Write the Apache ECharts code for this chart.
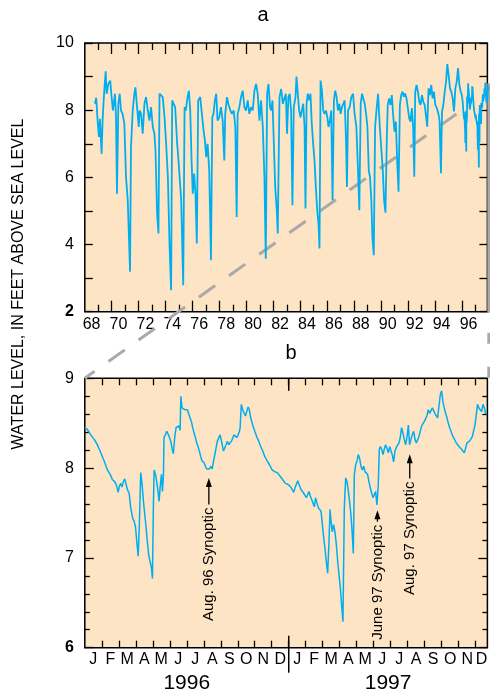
<!DOCTYPE html>
<html><head><meta charset="utf-8">
<script src="https://cdn.jsdelivr.net/npm/echarts@6/dist/echarts.min.js"></script>
<style>html,body{margin:0;padding:0;background:#fff}#c{width:490px;height:694px}</style>
</head><body><div id="c"></div>
<script>
// ---------- Panel a: long-term record (decimal year, ft above sea level) ----------
const yearsA = [1968.75,1968.85,1968.95,1969.05,1969.12,1969.25,1969.32,1969.40,1969.50,1969.55,1969.62,1969.75,1969.89,1969.99,
1970.09,1970.24,1970.32,1970.39,1970.49,1970.59,1970.69,1970.81,1970.94,
1971.06,1971.19,1971.36,1971.43,1971.56,1971.68,1971.76,1971.88,
1972.01,1972.06,1972.18,1972.30,1972.43,1972.55,1972.68,1972.80,1972.92,
1973.05,1973.17,1973.25,1973.37,1973.47,1973.55,1973.67,1973.79,1973.92,
1974.04,1974.17,1974.29,1974.41,1974.49,1974.61,1974.71,1974.86,1974.96,
1975.04,1975.16,1975.31,1975.41,1975.50,1975.63,1975.73,1975.83,1975.93,
1976.02,1976.12,1976.22,1976.32,1976.42,1976.57,1976.67,1976.82,1976.92,
1977.02,1977.12,1977.24,1977.37,1977.47,1977.56,1977.66,1977.76,1977.86,1977.99,
1978.11,1978.24,1978.36,1978.43,1978.56,1978.66,1978.81,1978.93,
1979.06,1979.18,1979.28,1979.35,1979.48,1979.60,1979.73,1979.85,1979.97,
1980.10,1980.22,1980.35,1980.47,1980.60,1980.72,1980.84,1980.97,
1981.09,1981.22,1981.34,1981.44,1981.54,1981.64,1981.76,1981.84,1981.94,
1982.04,1982.14,1982.26,1982.33,1982.46,1982.58,1982.71,1982.83,1982.93,
1983.02,1983.12,1983.22,1983.32,1983.42,1983.52,1983.65,1983.72,1983.82,1983.92,
1984.02,1984.12,1984.22,1984.32,1984.39,1984.47,1984.56,1984.66,1984.76,1984.86,1984.96,
1985.06,1985.16,1985.26,1985.36,1985.43,1985.51,1985.61,1985.71,1985.81,1985.91,
1986.01,1986.10,1986.20,1986.30,1986.40,1986.50,1986.60,1986.70,1986.80,1986.90,
1987.00,1987.10,1987.20,1987.30,1987.40,1987.47,1987.55,1987.67,1987.79,1987.92,
1988.04,1988.17,1988.29,1988.39,1988.49,1988.59,1988.69,1988.79,1988.89,1988.99,
1989.09,1989.18,1989.28,1989.36,1989.46,1989.56,1989.66,1989.78,1989.91,
1990.03,1990.13,1990.23,1990.33,1990.43,1990.50,1990.60,1990.70,1990.80,1990.90,
1991.00,1991.10,1991.20,1991.30,1991.40,1991.50,1991.60,1991.70,1991.79,1991.89,1991.99,
1992.09,1992.19,1992.29,1992.39,1992.47,1992.54,1992.64,1992.74,1992.84,1992.94,
1993.04,1993.14,1993.24,1993.33,1993.43,1993.53,1993.63,1993.73,1993.83,1993.93,
1994.03,1994.15,1994.28,1994.35,1994.45,1994.53,1994.63,1994.73,1994.83,1994.92,
1995.02,1995.12,1995.22,1995.32,1995.42,1995.52,1995.62,1995.72,1995.82,1995.92];
const levelsA = [8.19,8.37,7.69,7.20,7.74,6.70,7.69,8.29,8.88,9.16,8.49,8.78,8.88,8.39,
7.99,8.49,7.79,5.51,8.19,8.49,7.99,7.89,7.59,
6.01,5.32,3.19,6.90,7.99,8.49,8.68,8.09,
7.50,7.99,7.89,7.30,8.19,8.39,7.99,7.69,8.09,
7.50,7.30,6.80,4.92,4.33,8.49,8.50,8.39,7.79,
7.00,6.01,4.03,2.64,8.29,8.34,8.09,7.00,6.50,
6.01,5.32,2.79,8.09,7.99,8.39,8.58,7.99,6.50,
5.51,6.11,5.51,4.03,8.29,8.39,8.44,7.40,7.10,
6.60,7.00,6.21,3.53,7.79,7.89,8.29,8.49,7.69,7.79,
8.09,7.69,6.50,7.89,8.39,8.19,7.99,7.89,
7.99,7.50,4.82,7.89,8.09,8.39,8.58,8.09,7.99,
8.29,7.89,8.09,7.99,8.58,8.78,8.49,7.69,
8.29,7.50,6.01,3.58,8.49,8.78,8.09,7.99,8.29,
7.00,5.71,5.02,4.33,8.39,8.63,8.19,8.19,8.49,
7.30,8.39,8.49,7.99,5.17,8.09,8.39,9.00,8.49,7.99,
7.79,7.99,8.19,7.50,5.07,8.19,8.49,8.29,8.49,7.59,7.00,
6.50,5.71,5.02,4.60,3.88,8.88,8.58,7.99,7.89,7.99,
7.79,7.50,7.69,7.99,5.32,8.29,8.58,8.39,7.99,8.19,
7.89,8.09,8.19,8.29,7.10,5.71,7.99,8.09,8.39,8.49,
7.89,7.50,6.21,5.02,8.19,8.49,8.49,8.19,7.89,7.50,
6.21,6.01,5.32,4.23,3.68,7.50,7.99,8.49,7.50,
7.50,6.21,5.30,4.95,7.16,8.16,8.35,8.16,8.45,7.86,
7.36,7.66,6.47,5.57,8.16,8.45,8.55,8.40,8.50,8.35,8.06,
7.76,7.66,8.06,7.46,6.02,8.55,8.75,8.55,8.25,8.16,
8.45,8.25,8.16,7.86,7.51,8.65,8.45,8.75,8.35,8.55,
8.16,8.06,7.86,7.66,6.12,7.96,8.16,8.55,8.85,9.37,
9.05,8.65,8.55,8.35,7.96,8.65,8.85,9.25,8.75,8.55];

// ---------- Panel b: 1996-1997 record (months since 1 Jan 1996) ----------
const monthsB = [0.00,0.15,0.35,0.55,0.74,0.94,1.14,1.33,1.49,1.63,
1.76,1.88,1.96,2.04,2.12,2.19,2.27,2.35,2.43,2.51,
2.61,2.70,2.82,2.90,2.98,3.06,3.14,3.21,3.29,3.37,
3.45,3.53,3.61,3.68,3.76,3.84,3.92,3.98,4.04,4.08,
4.16,4.23,4.31,4.37,4.43,4.51,4.57,4.63,4.66,4.74,
4.82,4.90,4.98,5.06,5.14,5.21,5.29,5.37,5.45,5.53,
5.61,5.65,5.72,5.80,5.88,5.96,6.04,6.12,6.19,6.27,
6.35,6.43,6.51,6.59,6.66,6.74,6.82,6.90,7.02,7.10,
7.17,7.25,7.33,7.41,7.49,7.57,7.65,7.72,7.80,7.88,
7.96,8.00,8.08,8.16,8.23,8.31,8.39,8.47,8.55,8.63,
8.70,8.78,8.86,8.94,9.02,9.10,9.14,9.21,9.29,9.37,
9.45,9.53,9.61,9.68,9.76,9.88,10.00,10.12,10.23,10.35,
10.47,10.59,10.70,10.86,11.02,11.18,11.33,11.49,11.65,11.80,
11.94,12.07,12.21,12.29,12.37,12.45,12.53,12.60,12.68,12.76,
12.88,12.96,13.04,13.11,13.19,13.27,13.35,13.43,13.51,13.58,
13.66,13.74,13.82,13.90,13.98,14.06,14.13,14.21,14.29,14.37,
14.43,14.49,14.56,14.64,14.72,14.80,14.88,14.96,15.04,15.11,
15.19,15.27,15.35,15.43,15.51,15.58,15.66,15.74,15.80,15.86,
15.94,16.02,16.09,16.17,16.25,16.33,16.41,16.49,16.56,16.64,
16.72,16.80,16.88,16.96,17.04,17.11,17.19,17.27,17.33,17.39,
17.47,17.55,17.62,17.70,17.78,17.86,17.94,18.02,18.09,18.17,
18.25,18.33,18.41,18.49,18.56,18.64,18.72,18.80,18.88,18.96,
19.04,19.11,19.19,19.27,19.35,19.43,19.51,19.58,19.66,19.74,
19.82,19.90,19.98,20.06,20.13,20.21,20.29,20.37,20.45,20.53,
20.60,20.68,20.76,20.84,20.92,21.00,21.07,21.15,21.23,21.31,
21.39,21.47,21.55,21.62,21.70,21.78,21.86,21.94,22.02,22.09,
22.17,22.25,22.33,22.41,22.49,22.56,22.64,22.72,22.80,22.88,
22.96,23.04,23.11,23.19,23.27,23.35,23.43,23.51,23.58,23.66];
const levelsB = [8.45,8.43,8.37,8.32,8.26,8.17,8.08,7.98,7.93,7.87,
7.85,7.80,7.73,7.80,7.83,7.79,7.85,7.88,7.82,7.76,
7.72,7.56,7.44,7.41,7.35,7.18,7.02,7.37,7.95,7.82,
7.63,7.48,7.33,7.18,7.03,7.02,6.89,6.77,7.63,7.98,
7.93,7.85,7.74,7.63,7.78,7.93,7.74,7.93,8.34,8.37,
8.41,8.38,8.34,8.30,8.21,8.16,8.34,8.45,8.44,8.47,
8.42,8.80,8.67,8.67,8.65,8.63,8.65,8.60,8.61,8.52,
8.45,8.39,8.34,8.28,8.24,8.19,8.13,8.08,8.06,8.02,
7.99,8.01,7.99,8.02,7.99,7.98,8.15,8.22,8.30,8.32,
8.37,8.34,8.32,8.19,8.21,8.26,8.30,8.26,8.25,8.30,
8.28,8.37,8.39,8.34,8.37,8.41,8.45,8.71,8.65,8.63,
8.58,8.63,8.68,8.65,8.56,8.48,8.41,8.35,8.30,8.24,
8.19,8.13,8.09,8.04,7.98,7.96,7.95,7.91,7.87,7.83,
7.82,7.80,7.76,7.73,7.78,7.80,7.86,7.82,7.78,7.75,
7.72,7.70,7.67,7.70,7.74,7.69,7.65,7.61,7.57,7.67,
7.61,7.56,7.57,7.52,7.37,7.22,7.11,6.96,6.83,7.18,
7.54,7.41,7.29,7.37,7.29,7.15,6.96,6.81,6.66,6.48,
6.29,7.56,7.89,7.85,7.74,7.63,7.48,7.26,7.05,7.93,
8.04,8.08,8.15,8.11,8.02,7.98,8.02,7.96,7.96,7.93,
7.85,7.78,7.72,7.67,7.69,7.74,7.59,7.82,8.21,8.24,
8.21,8.15,8.21,8.26,8.22,8.17,8.24,8.19,8.15,8.07,
8.19,8.23,8.24,8.28,8.34,8.45,8.39,8.32,8.26,8.35,
8.48,8.26,8.32,8.37,8.41,8.32,8.28,8.30,8.35,8.37,
8.47,8.48,8.52,8.54,8.58,8.65,8.61,8.63,8.67,8.64,
8.61,8.60,8.56,8.58,8.82,8.86,8.74,8.67,8.61,8.56,
8.50,8.45,8.41,8.37,8.34,8.31,8.28,8.26,8.24,8.22,
8.21,8.19,8.17,8.15,8.28,8.28,8.30,8.32,8.35,8.37,
8.48,8.50,8.71,8.67,8.65,8.63,8.71,8.67,8.61,8.60];

// ---------- Tick labels ----------
const yearTickLabels = ['68','70','72','74','76','78','80','82','84','86','88','90','92','94','96'];
const monthTickLabels = ['J','F','M','A','M','J','J','A','S','O','N','D','J','F','M','A','M','J','J','A','S','O','N','D'];
const yearLabelsB = ['1996','1997'];
const levelTicksA = [2,4,6,8,10];
const levelTicksB = [6,7,8,9];
const annotations = [
  {text:'Aug. 96 Synoptic', month:7.30, textTop:7.56, tip:7.89},
  {text:'June 97 Synoptic', month:17.22, textTop:7.37, tip:7.53},
  {text:'Aug. 97 Synoptic', month:19.12, textTop:7.85, tip:8.155}
];

// ---------- Layout / style ----------
const FONT = '"Liberation Sans", Arial, Helvetica, sans-serif';
const A_MIN = 1968, A_MAX = 1997.9;   // panel a x extent (years)
const B_MIN = 0, B_MAX = 23.69;       // panel b x extent (months)
const BG = '#FDE4C4', LINE = '#00AEEF', GREY = '#A9A9A9';
const tick = {color:'#000', width:1.3};

const evenYears = [], oddYears = [];
for (let y = 1969; y <= 1997; y++) (y % 2 ? oddYears : evenYears).push(y);
const yearLabelPos = yearTickLabels.map(l => 1900 + Number(l) + 0.5);
const monthTicks = []; for (let m = 1; m < 24; m++) monthTicks.push(m);
const monthLabelPos = monthTickLabels.map((l, i) => (i + Math.min(i + 1, B_MAX)) / 2);
const yearLabelPosB = yearLabelsB.map((l, i) => (i * 12 + Math.min(i * 12 + 12, B_MAX)) / 2);

function xa(grid, pos, min, max, ticks, len, labelOpt) {
  return {
    type:'value', gridIndex:grid, position:pos, min:min, max:max,
    axisLine:{show:false, onZero:false},
    splitLine:{show:false},
    axisTick: ticks ? {show:true, inside:true, length:len, customValues:ticks, lineStyle:tick} : {show:false},
    axisLabel: labelOpt || {show:false}
  };
}
function ya(grid, pos, min, max, len, labels, minor) {
  const o = {
    type:'value', gridIndex:grid, position:pos, min:min, max:max, interval:1,
    axisLine:{show:false, onZero:false}, splitLine:{show:false},
    axisTick:{show:true, inside:true, length:len, lineStyle:tick},
    axisLabel: labels ? {show:true, margin:11, fontFamily:FONT, fontSize:16, color:'#000',
      formatter: v => labels.indexOf(v) < 0 ? '' : (v === min ? '{b|' + v + '}' : String(v)),
      rich:{b:{fontFamily:FONT, fontSize:16, fontWeight:'bold', color:'#000'}}} : {show:false}
  };
  if (minor) o.minorTick = {show:true, splitNumber:5, length:5, lineStyle:tick};
  return o;
}

const seriesA = yearsA.map((y, i) => [y, levelsA[i]])
  .concat(monthsB.map((m, i) => [1996 + m / 12, levelsB[i]]));
const seriesB = monthsB.map((m, i) => [m, levelsB[i]]);

const option = {
  animation:false,
  backgroundColor:'#fff',
  grid:[
    {left:84.8, top:43, width:402.6, height:268.7, show:true, backgroundColor:BG, borderColor:'#000', borderWidth:1.5, containLabel:false, outerBoundsMode:'none'},
    {left:84.8, top:378.3, width:402.6, height:269.4, show:true, backgroundColor:BG, borderColor:'#000', borderWidth:1.5, containLabel:false, outerBoundsMode:'none'}
  ],
  xAxis:[
    xa(0,'bottom',A_MIN,A_MAX,evenYears,11,{show:true, customValues:yearLabelPos, margin:5, fontFamily:FONT, fontSize:16, color:'#000',
      formatter:v => String(Math.floor(v)).slice(2)}),
    xa(0,'bottom',A_MIN,A_MAX,oddYears,7),
    xa(0,'top',A_MIN,A_MAX,evenYears,11),
    xa(0,'top',A_MIN,A_MAX,oddYears,7),
    xa(1,'bottom',B_MIN,B_MAX,monthTicks,7,{show:true, customValues:monthLabelPos, margin:4, fontFamily:FONT, fontSize:16, color:'#000',
      formatter:(v, i) => monthTickLabels[monthLabelPos.indexOf(v)]}),
    xa(1,'top',B_MIN,B_MAX,monthTicks,7),
    xa(1,'bottom',B_MIN,B_MAX,null,0,{show:true, customValues:yearLabelPosB, margin:25, fontFamily:FONT, fontSize:21, color:'#000',
      formatter:v => yearLabelsB[yearLabelPosB.indexOf(v)]})
  ],
  yAxis:[
    ya(0,'left',2,10,8,levelTicksA,false),
    ya(0,'right',2,10,8,null,false),
    ya(1,'left',6,9,9,levelTicksB,true),
    ya(1,'right',6,9,9,null,true)
  ],
  series:[
    {type:'line', xAxisIndex:0, yAxisIndex:0, data:seriesA, symbol:'none', showSymbol:false,
      lineStyle:{color:LINE, width:1.8}, z:3, clip:true},
    {type:'line', xAxisIndex:4, yAxisIndex:2, data:seriesB, symbol:'none', showSymbol:false,
      lineStyle:{color:LINE, width:1.5}, z:3, clip:true}
  ]
};

const chart = echarts.init(document.getElementById('c'), null, {renderer:'canvas'});
chart.setOption(option);

const pA = (x, y) => chart.convertToPixel({seriesIndex:0}, [x, y]);
const pB = (x, y) => chart.convertToPixel({seriesIndex:1}, [x, y]);
const g = [];
// connector lines from panel a to panel b
const a1 = pA(1996, 8.0), b1 = pB(B_MIN, 9);
g.push({type:'line', z:1, silent:true, shape:{x1:b1[0], y1:b1[1], x2:a1[0], y2:a1[1]},
  style:{stroke:GREY, lineWidth:3, lineDash:[20,17], lineDashOffset:8}});
const a2 = pA(A_MAX, 8.8), b2 = pB(B_MAX, 9), aBottom = pA(A_MAX, 2)[1];
g.push({type:'line', z:1, silent:true, shape:{x1:a2[0] + 1.3, y1:a2[1], x2:b2[0] + 1.3, y2:aBottom + 1},
  style:{stroke:GREY, lineWidth:2.8}});
g.push({type:'line', z:1, silent:true, shape:{x1:b2[0] + 1.3, y1:aBottom + 21, x2:b2[0] + 1.3, y2:b2[1]},
  style:{stroke:GREY, lineWidth:2.8, lineDash:[11,23]}});
// year divider in panel b
const yb = pB(12, 6), yt = pB(12, 9);
g.push({type:'line', z:5, silent:true, shape:{x1:yb[0], y1:yb[1] - 12, x2:yb[0], y2:yb[1] + 25}, style:{stroke:'#000', lineWidth:1.5}});
g.push({type:'line', z:5, silent:true, shape:{x1:yt[0], y1:yt[1], x2:yt[0], y2:yt[1] + 12.5}, style:{stroke:'#000', lineWidth:1.5}});
// synoptic annotations
annotations.forEach(a => {
  const t = pB(a.month, a.textTop), tip = pB(a.month, a.tip);
  g.push({type:'text', z:6, silent:true, x:t[0], y:t[1], rotation:Math.PI / 2,
    style:{text:a.text, fontFamily:FONT, fontSize:15, fill:'#000', align:'right', verticalAlign:'middle'}});
  g.push({type:'line', z:6, silent:true, shape:{x1:tip[0], y1:t[1] - 3, x2:tip[0], y2:tip[1] + 6}, style:{stroke:'#000', lineWidth:1.3}});
  g.push({type:'polygon', z:6, silent:true, shape:{points:[[tip[0], tip[1]], [tip[0] - 3, tip[1] + 9], [tip[0] + 3, tip[1] + 9]]}, style:{fill:'#000'}});
});
// titles and axis title
g.push({type:'text', z:6, x:263, y:15, style:{text:'a', fontFamily:FONT, fontSize:20, fill:'#000', align:'center', verticalAlign:'middle'}});
g.push({type:'text', z:6, x:291, y:353, style:{text:'b', fontFamily:FONT, fontSize:20, fill:'#000', align:'center', verticalAlign:'middle'}});
g.push({type:'text', z:6, x:19, y:284, rotation:Math.PI / 2,
  style:{text:'WATER LEVEL, IN FEET ABOVE SEA LEVEL', fontFamily:FONT, fontSize:16, fill:'#000', align:'center', verticalAlign:'middle'}});
chart.setOption({graphic:g});
</script></body></html>
